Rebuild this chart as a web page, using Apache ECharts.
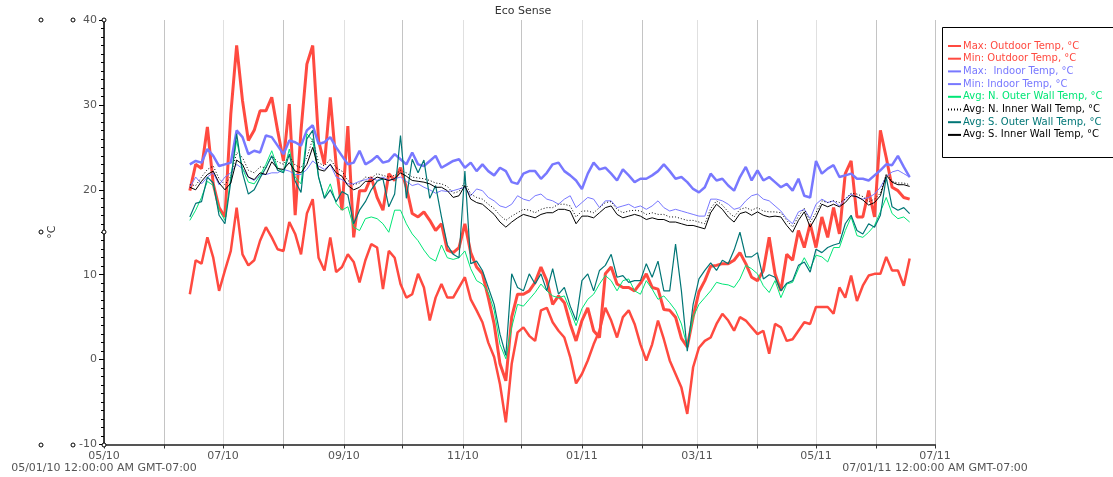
<!DOCTYPE html>
<html><head><meta charset="utf-8">
<script src="https://cdn.jsdelivr.net/npm/echarts@6/dist/echarts.min.js"></script>
<style>html,body{margin:0;padding:0;background:#fff}#c{width:1113px;height:477px}</style>
</head><body><div id="c"></div>
<script>
// ---- data (one reading every 3 days, starting 2010-06-14) ----
const startDate = [2010, 5, 14];
const stepDays = 3;

const seriesNames = [
  'Max: Outdoor Temp, °C',
  'Min: Outdoor Temp, °C',
  'Max:  Indoor Temp, °C',
  'Min: Indoor Temp, °C',
  'Avg: N. Outer Wall Temp, °C',
  'Avg: N. Inner Wall Temp, °C',
  'Avg: S. Outer Wall Temp, °C',
  'Avg: S. Inner Wall Temp, °C'
];

const maxOutdoor = [19.9,23.0,22.5,27.4,20.7,17.9,16.8,28.9,37.0,30.5,25.8,27.0,29.3,29.3,30.9,27.0,23.4,30.1,17.0,27.0,34.8,37.0,25.8,23.0,30.9,
  23.0,17.6,27.5,14.4,19.9,19.9,21.5,19.1,17.6,21.9,21.1,22.6,20.3,17.2,16.8,17.4,16.4,15.2,16.0,12.9,
  12.6,13.2,16.0,12.6,10.9,10.1,7.3,4.2,-0.5,-2.5,5.0,7.7,7.7,8.1,9.1,10.9,9.3,6.5,7.5,6.7,4.2,2.2,4.6,6.1,3.4,2.6,10.1,10.9,8.9,8.5,8.5,8.1,9.0,10.1,8.5,8.3,5.9,5.8,5.0,2.5,1.5,5.0,8.0,9.3,11.0,
  11.1,11.3,11.3,11.7,12.6,11.3,9.7,9.3,10.5,14.4,
  10.1,8.1,12.4,11.7,15.2,13.2,16.0,13.2,16.8,14.4,17.9,14.8,21.9,23.4,16.8,16.8,19.9,16.8,27.0,23.8,20.3,19.9,19.1,18.9];

const minOutdoor = [7.7,11.7,11.3,14.4,12.0,8.1,10.5,12.8,17.9,12.4,11.1,11.7,14.0,15.6,14.4,13.0,12.8,16.2,14.8,12.4,17.2,18.9,12.0,10.5,14.4,
  10.3,10.9,12.4,11.5,9.1,11.7,13.6,13.2,8.3,12.8,12.0,8.9,7.3,7.7,10.1,8.5,4.6,7.3,8.9,7.3,
  7.3,8.5,9.7,7.1,5.8,4.4,2.0,0.3,-2.9,-7.4,-0.5,3.2,3.8,2.8,2.2,5.8,6.1,4.4,3.4,2.6,0.3,-2.8,-1.7,-0.1,1.8,3.4,6.1,4.6,2.6,5.0,5.8,4.2,1.8,-0.1,1.8,4.6,2.4,-0.1,-1.7,-3.3,-6.4,-0.9,1.4,2.2,2.6,
  4.2,5.4,4.6,3.4,5.0,4.6,3.8,3.0,3.4,0.7,
  4.2,3.8,2.2,2.4,3.4,4.4,4.2,6.2,6.2,6.2,5.4,8.5,7.3,9.9,6.9,8.7,9.9,10.1,10.1,12.1,10.5,10.5,8.7,11.9];

const maxIndoor = [23.0,23.4,23.2,24.8,24.0,22.8,23.0,23.2,27.0,26.2,24.2,24.6,24.4,26.4,26.2,25.2,24.2,25.8,25.6,25.2,27.0,27.6,25.4,25.6,26.2,
  25.0,24.0,23.0,23.2,24.6,23.0,23.4,24.0,23.2,23.4,24.2,23.6,23.0,24.4,23.0,22.8,23.4,24.0,22.6,23.0,
  23.4,23.6,22.6,23.2,22.2,23.0,22.2,21.7,22.6,22.2,20.9,20.7,21.9,22.2,22.2,21.3,22.0,23.0,23.2,22.2,21.7,21.1,20.1,21.9,23.2,22.4,22.6,21.9,21.1,22.4,21.7,20.9,21.3,21.3,21.7,22.2,23.0,22.2,21.3,21.5,20.9,20.1,19.7,20.3,21.9,
  21.1,21.3,20.5,19.9,21.5,22.7,21.1,22.3,21.1,21.5,
  20.9,20.3,20.7,19.9,21.3,19.3,19.1,23.4,21.9,22.5,22.9,21.5,21.7,21.9,21.3,21.3,21.1,21.7,22.3,23.0,22.9,24.0,22.7,21.5];

const minIndoor = [20.3,21.5,20.7,21.5,22.0,20.6,21.5,22.0,23.0,22.5,21.5,21.1,21.8,21.8,22.0,22.0,22.4,22.2,21.8,21.8,22.4,23.4,22.8,22.4,23.0,
  21.5,21.2,20.7,20.7,21.0,21.2,21.4,21.1,21.5,21.1,21.3,21.5,21.0,20.5,20.7,20.3,20.0,19.6,19.9,19.8,
  19.9,20.1,20.3,19.3,20.1,19.9,19.1,18.7,18.1,17.9,18.3,19.3,18.9,18.7,19.3,19.5,18.9,18.7,18.3,18.9,19.3,17.9,18.5,19.1,18.9,17.9,18.7,18.7,17.9,18.1,18.3,17.9,18.1,17.7,18.1,18.7,17.9,17.5,17.7,17.5,17.3,17.1,16.9,16.9,18.9,
  18.9,18.7,18.3,17.7,17.9,18.7,19.3,19.5,18.9,18.7,
  18.1,17.5,16.6,16.0,17.4,17.7,16.6,18.3,18.9,18.5,18.7,18.1,18.9,19.5,19.1,18.9,19.1,19.5,20.3,21.5,22.1,22.3,21.9,21.5];

const nOuterWall = [16.4,17.6,19.1,21.0,20.5,17.6,16.4,21.5,25.8,22.5,20.9,20.7,21.7,23.0,24.6,22.6,22.1,24.8,21.5,20.7,26.6,25.8,21.5,19.1,20.7,
  18.4,17.6,18.0,15.6,15.2,16.6,16.8,16.6,16.0,15.0,17.6,17.6,16.0,14.8,14.0,12.9,12.0,11.6,13.5,12.0,
  11.8,12.0,12.8,10.7,9.3,8.9,7.9,5.8,1.8,0.1,3.8,6.5,6.3,7.1,7.9,8.9,8.1,7.5,7.3,7.5,5.8,4.0,6.0,7.1,7.7,8.9,9.9,9.3,8.1,9.3,9.5,8.1,7.7,9.3,8.3,7.1,7.5,6.7,5.8,4.2,1.5,5.0,6.5,7.3,8.1,
  9.1,8.9,8.8,8.5,9.5,11.1,10.7,10.1,8.7,7.9,
  9.3,7.3,8.9,9.1,10.7,12.0,10.7,12.3,12.1,11.5,13.2,13.2,15.2,16.8,14.6,14.4,15.0,15.8,17.4,19.1,17.2,16.6,16.8,16.2];

const nInnerWall = [20.6,20.5,21.5,22.4,22.8,21.3,20.6,21.6,24.4,23.8,22.3,22.0,22.7,22.6,24.0,23.3,23.0,24.0,22.9,22.6,23.8,26.0,23.2,22.8,23.6,
  22.6,22.2,21.1,20.6,20.8,21.5,21.4,21.9,21.7,21.5,21.7,22.3,22.0,21.5,21.4,21.3,21.1,20.8,20.7,20.4,
  19.6,19.8,20.9,19.5,19.1,18.9,18.3,17.8,17.0,16.4,16.9,17.3,17.7,17.6,17.3,17.7,17.9,17.9,18.3,18.3,18.1,16.8,17.5,17.5,17.3,17.9,18.5,18.6,17.7,17.3,17.5,17.6,17.5,17.1,17.3,17.1,17.1,16.8,16.8,16.6,16.4,16.4,16.2,16.0,17.8,
  18.7,18.2,17.4,16.8,17.7,17.9,17.6,17.9,17.5,17.4,
  17.4,17.3,16.4,15.6,16.9,17.8,16.2,17.3,18.7,18.5,18.7,18.5,18.9,19.6,19.5,19.2,18.6,18.9,19.6,21.9,21.0,20.8,20.8,20.6];

const sOuterWall = [16.8,18.4,18.6,21.5,20.8,17.0,16.0,21.0,26.6,22.0,19.5,20.0,21.4,22.6,24.0,22.3,22.0,24.2,21.0,19.7,26.0,27.0,21.5,19.0,20.0,
  18.6,19.8,19.4,16.0,17.6,18.6,20.0,21.0,21.3,18.0,19.5,26.4,19.0,23.6,22.0,23.5,19.0,20.5,16.8,13.5,
  12.4,12.0,22.2,11.3,11.6,10.5,8.5,6.5,3.0,0.5,10.1,8.5,8.1,10.1,8.9,10.1,8.1,10.7,7.7,8.5,6.3,4.6,9.3,10.1,8.1,10.5,11.1,12.4,9.7,9.9,9.1,9.3,9.3,11.3,9.7,11.6,8.1,8.1,13.6,8.1,1.0,6.5,9.5,10.5,11.4,
  10.5,11.7,11.3,12.9,15.0,12.1,12.1,12.6,9.5,10.0,
  9.7,8.1,9.0,9.3,11.1,11.5,10.3,13.0,12.6,13.2,13.5,13.7,16.0,17.0,15.2,14.8,16.0,15.6,17.0,21.5,18.0,17.6,17.9,17.2];

const sInnerWall = [20.3,20.0,21.0,21.8,22.2,20.8,20.0,20.8,23.5,23.0,21.5,21.2,22.0,21.8,23.3,22.5,22.4,23.2,22.2,22.0,23.0,25.0,22.4,22.2,23.0,
  22.0,21.6,20.5,20.0,20.3,21.0,21.0,21.5,21.3,21.1,21.3,22.0,21.6,21.1,21.0,20.9,20.7,20.3,20.3,19.9,
  19.1,19.3,20.5,18.9,18.5,18.3,17.7,17.1,16.2,15.6,16.2,16.7,17.1,16.9,16.7,17.1,17.3,17.3,17.7,17.7,17.5,16.0,16.9,16.9,16.7,17.3,17.9,18.1,17.1,16.7,16.9,17.1,16.9,16.5,16.7,16.5,16.5,16.2,16.2,16.0,15.8,15.8,15.6,15.4,17.3,
  18.3,17.7,16.8,16.2,17.2,17.4,17.0,17.4,17.0,16.8,
  16.9,16.8,15.8,15.0,16.4,17.4,15.6,16.8,18.3,18.0,18.3,18.0,18.5,19.3,19.2,18.8,18.2,18.5,19.3,21.7,20.9,20.6,20.6,20.4];

const yTicks = { min: -10, max: 40, interval: 10 };
const axisStartLabel = '05/01/10 12:00:00 AM GMT-07:00';
const axisEndLabel = '07/01/11 12:00:00 AM GMT-07:00';

// ---- chart ----
const DAY = 86400000;
const X_MIN = new Date(2010, 4, 1).getTime();
const X_MAX = new Date(2011, 6, 1).getTime();
const t0 = new Date(startDate[0], startDate[1], startDate[2]).getTime();

const allValues = [maxOutdoor, minOutdoor, maxIndoor, minIndoor, nOuterWall, nInnerWall, sOuterWall, sInnerWall];
const colors = ['#ff4a40', '#ff4a40', '#7878ff', '#7878ff', '#00e676', '#000000', '#007676', '#000000'];
const widths = [3, 2.5, 2.5, 1, 1, 1, 1.2, 1];
const types = ['solid', 'solid', 'solid', 'solid', 'solid', [1, 2], 'solid', 'solid'];
const FONT = 'DejaVu Sans';
const pad = n => (n < 10 ? '0' : '') + n;

const series = allValues.map((vals, k) => ({
  name: seriesNames[k],
  type: 'line',
  symbol: 'none',
  animation: false,
  emphasis: { disabled: true },
  color: colors[k],
  lineStyle: { color: colors[k], width: widths[k], type: types[k] },
  data: vals.map((v, i) => [t0 + i * stepDays * DAY, v])
}));

const circles = [[41, 20], [73, 20], [104, 20], [41, 232], [104, 232], [41, 445], [73, 445], [104, 445]];

const graphics = circles.map(c => ({
  type: 'circle', shape: { cx: c[0], cy: c[1], r: 2 }, z: 100,
  style: { fill: '#fff', stroke: '#000', lineWidth: 1 }
}));
graphics.push({
  type: 'rect', z: 0, silent: true,
  shape: { x: 942.5, y: 27.5, width: 260, height: 130 },
  style: { fill: '#fff', stroke: '#000', lineWidth: 1 }
});

const chart = echarts.init(document.getElementById('c'), null, { renderer: 'canvas' });
chart.setOption({
  backgroundColor: '#fff',
  animation: false,
  textStyle: { fontFamily: FONT },
  title: {
    text: 'Eco Sense', left: 523, top: 6, padding: 0, textAlign: 'center',
    textStyle: { fontFamily: FONT, fontSize: 11, fontWeight: 'normal', color: '#333' }
  },
  grid: { left: 104, right: 178, top: 20, bottom: 32.5, containLabel: false },
  legend: {
    orient: 'vertical', left: 942, top: 27, padding: [14, 10, 16, 5],
    itemWidth: 13, itemHeight: 10, itemGap: 2.7,
    borderWidth: 0, backgroundColor: 'transparent',
    selectedMode: false, z: 10,
    lineStyle: { width: 2 },
    itemStyle: { color: 'rgba(0,0,0,0)', borderColor: 'rgba(0,0,0,0)', borderWidth: 0, opacity: 0 },
    textStyle: { fontFamily: FONT, fontSize: 10, padding: [0, 0, 0, -3] },
    data: seriesNames.map((n, k) => ({ name: n, textStyle: { color: colors[k] } }))
  },
  xAxis: {
    type: 'time', min: X_MIN, max: X_MAX, splitNumber: 14,
    minInterval: 28 * DAY, maxInterval: 31 * DAY,
    axisLine: { onZero: false, lineStyle: { color: '#555', width: 2 } },
    axisTick: { show: true, length: 4, lineStyle: { color: '#333' } },
    axisLabel: {
      fontFamily: FONT, fontSize: 11, color: '#555', margin: 6, lineHeight: 12,
      showMinLabel: true, showMaxLabel: true, hideOverlap: false,
      formatter: function (value) {
        const d = new Date(value);
        const m = d.getMonth();
        if (m % 2) return '';
        let s = pad(m + 1) + '/' + pad(d.getFullYear() % 100);
        if (value === X_MIN) s += '\n' + axisStartLabel;
        if (value === X_MAX) s += '\n' + axisEndLabel;
        return s;
      }
    },
    splitLine: { show: true, lineStyle: { color: ['#c4c4c4', '#e0e0e0'], width: 1 } }
  },
  yAxis: {
    type: 'value', min: yTicks.min, max: yTicks.max, interval: yTicks.interval,
    name: '°C', nameLocation: 'middle', nameGap: 46,
    nameTextStyle: { fontFamily: FONT, fontSize: 11, color: '#333' },
    axisLine: { show: true, onZero: false, lineStyle: { color: '#000', width: 1.5 } },
    axisTick: { show: true, length: 5, lineStyle: { color: '#000' } },
    minorTick: { show: true, splitNumber: 10, length: 3, lineStyle: { color: '#000' } },
    axisLabel: { fontFamily: FONT, fontSize: 11, color: '#555', margin: 7 },
    splitLine: { show: false }
  },
  graphic: graphics,
  series: series
});
</script>
</body></html>
